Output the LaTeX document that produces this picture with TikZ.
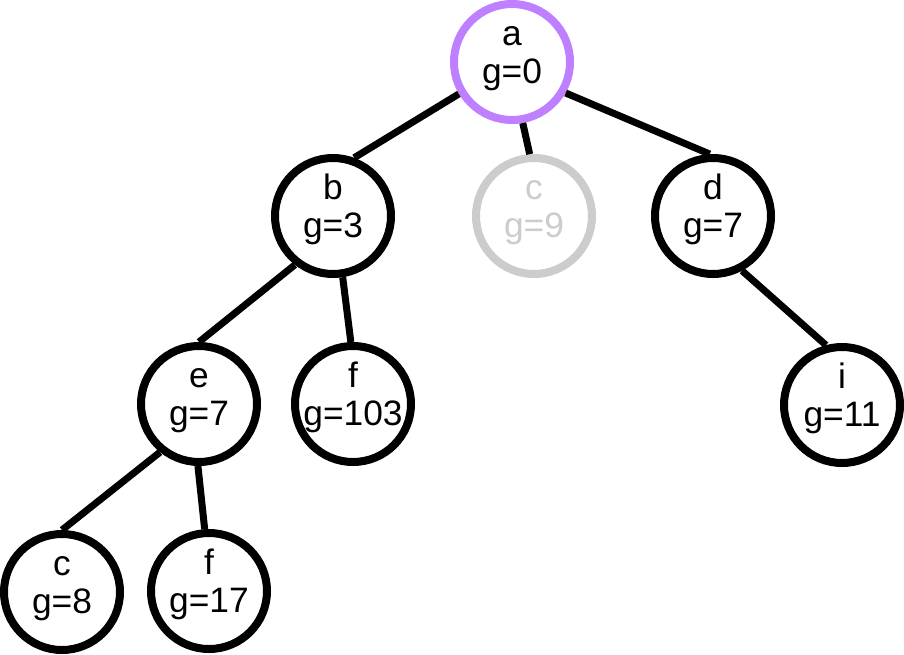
\documentclass[tikz,border=0pt]{standalone}
\usepackage{fontspec}
\setmainfont{Liberation Sans}
\definecolor{seen}{RGB}{191,128,255}
\definecolor{pruned}{RGB}{204,204,204}
\newcommand{\gcost}[2]{\rule{0pt}{20pt}\makebox[0pt]{#1}\\\makebox[0pt]{g=#2}\rule[-17pt]{0pt}{17pt}}

\begin{document}
\begin{tikzpicture}[x=0.75pt,y=-0.75pt,
    state/.style={circle, draw=black, fill=white, line width=6pt,
      minimum size=87pt, inner sep=0pt, align=center,
      font={\fontsize{26.5}{28.5}\selectfont}},
    start/.style={state, draw=seen},
    skip/.style={state, draw=pruned, text=pruned},
    branch/.style={line width=5.25pt}]
  \useasboundingbox (0,0) rectangle (904,654);
  % search tree
  \node [start] (a) at (512,62) {\gcost{a}{0}};
  \node [state] (b) at (333,216) {\gcost{b}{3}};
  \node [skip] (c1) at (534,216) {\gcost{c}{9}};
  \node [state] (d) at (713,216) {\gcost{d}{7}};
  \node [state] (e) at (199,404) {\gcost{e}{7}};
  \node [state] (f1) at (353,404) {\gcost{f}{103}};
  \node [state] (i) at (842,405) {\gcost{i}{11}};
  \node [state] (c2) at (62,592) {\gcost{c}{8}};
  \node [state] (f2) at (209,591) {\gcost{f}{17}};
  % edges
  \draw [branch] (a.211) -- (b.70);
  \draw [branch] (a.280) -- (c1.94);
  \draw [branch] (a.330) -- (d.93);
  \draw [branch] (b.232) -- (e.90);
  \draw [branch] (b.279) -- (f1.92);
  \draw [branch] (e.231) -- (c2.90);
  \draw [branch] (e.269) -- (f2.94);
  \draw [branch] (d.298) -- (i.105);
\end{tikzpicture}
\end{document}
